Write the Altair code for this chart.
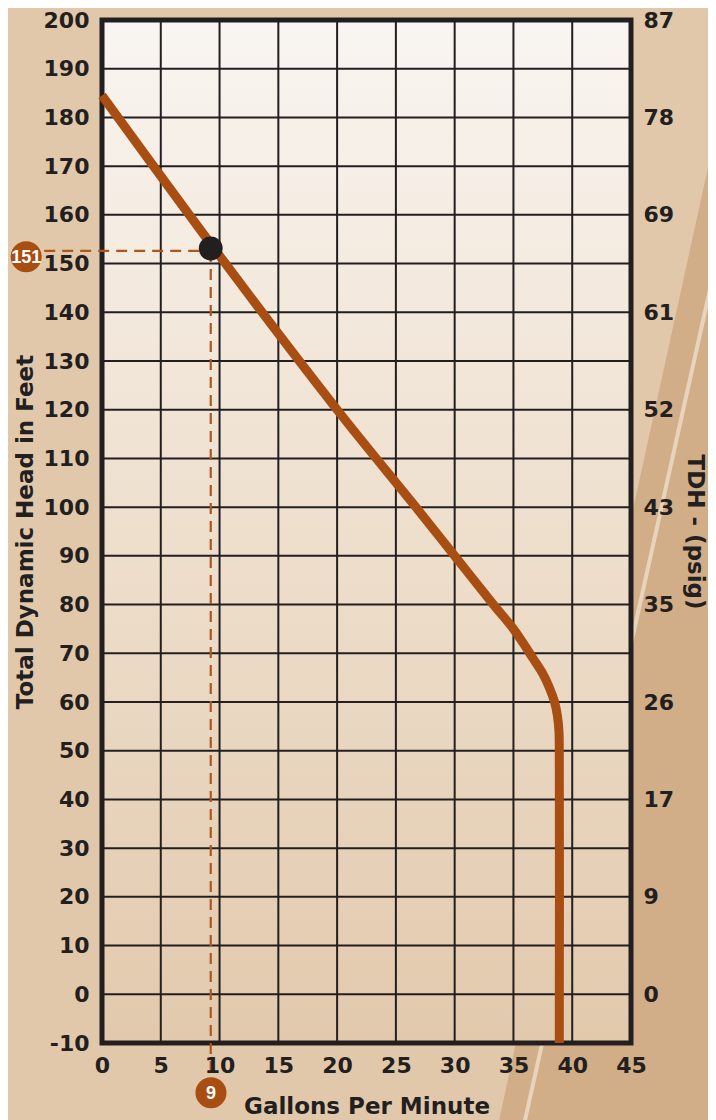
import altair as alt
import pandas as pd

# ---- data ----
gpm_ticks = [0, 5, 10, 15, 20, 25, 30, 35, 40, 45]
ft_ticks = [-10, 0, 10, 20, 30, 40, 50, 60, 70, 80, 90, 100, 110, 120, 130, 140,
            150, 160, 170, 180, 190, 200]
psig_ft = [0, 20, 40, 60, 80, 100, 120, 140, 160, 180, 200]
psig_labels = ["0", "9", "17", "26", "35", "43", "52", "61", "69", "78", "87"]

curve_gpm = [0, 10.5, 20.0, 26.7, 30.0, 33.3, 35.0, 35.85, 36.65, 37.45, 38.05,
             38.5, 38.75, 38.87, 38.9, 38.9]
curve_ft = [184.5, 150, 120, 100, 90, 80, 75, 72, 69, 66, 63,
            60, 57, 54, 50, -10]

marker_gpm = [9.25]
marker_ft = [153.1]
dash_ft = [152.6]

badge_text = ["151", "9"]
badge_gpm = [-6.45, 9.27]
badge_ft = [151.4, -20.2]

# decorative background band (data space, outside the plot domain)
band_gpm = [52.3, 33.4]
band_ft = [178, -30]
stripe_gpm = [52.3, 35.6]
stripe_ft = [151, -30]

INK = "#231F20"
RUST = "#A84E12"
FONT = "DejaVu Sans"

xs = alt.Scale(domain=[gpm_ticks[0], gpm_ticks[-1]], nice=False, zero=False)
ys = alt.Scale(domain=[ft_ticks[0], ft_ticks[-1]], nice=False, zero=False)

band = alt.Chart(pd.DataFrame({"gpm": band_gpm, "ft": band_ft})).mark_area(
    orient="horizontal", color="#D1AE88"
).encode(
    y=alt.Y("ft:Q", scale=ys, axis=None),
    x=alt.X("gpm:Q", scale=xs, axis=None),
    x2=alt.datum(70),
)

stripe = alt.Chart(pd.DataFrame({"gpm": stripe_gpm, "ft": stripe_ft})).mark_line(
    color="#E8D3BC", strokeWidth=4
).encode(
    x=alt.X("gpm:Q", scale=xs, axis=None),
    y=alt.Y("ft:Q", scale=ys, axis=None),
)

grad = alt.Gradient(
    gradient="linear",
    stops=[alt.GradientStop(color="#F9F5F1", offset=0),
           alt.GradientStop(color="#EEDFCD", offset=0.5),
           alt.GradientStop(color="#E2C9AC", offset=1)],
    x1=0, x2=0, y1=0, y2=1,
)

frame_df = pd.DataFrame({"x0": [gpm_ticks[0]], "x1": [gpm_ticks[-1]],
                         "y0": [ft_ticks[0]], "y1": [ft_ticks[-1]]})
frame = alt.Chart(frame_df).mark_rect(fill=grad, stroke=INK, strokeWidth=5).encode(
    x=alt.X("x0:Q", scale=xs, axis=alt.Axis(
        values=gpm_ticks, title="Gallons Per Minute", labelPadding=12,
        titlePadding=19, labelFlush=False, labelOverlap=False, zindex=2)),
    x2="x1:Q",
    y=alt.Y("y0:Q", scale=ys, axis=alt.Axis(
        orient="left", values=ft_ticks, title="Total Dynamic Head in Feet",
        labelPadding=13, titlePadding=6, labelExpr="'' + datum.value",
        labelOverlap=False, zindex=2)),
    y2="y1:Q",
)

vgrid = alt.Chart(pd.DataFrame({"gpm": gpm_ticks})).mark_rule(
    color=INK, strokeWidth=2
).encode(x=alt.X("gpm:Q", scale=xs, axis=None))

psig_arr = "[" + ",".join("'%s'" % s for s in psig_labels) + "]"
ft_arr = "[" + ",".join(str(v) for v in psig_ft) + "]"
hgrid = alt.Chart(pd.DataFrame({"ft": ft_ticks})).mark_rule(
    color=INK, strokeWidth=2
).encode(y=alt.Y("ft:Q", scale=ys, axis=alt.Axis(
    orient="right", values=psig_ft, title="TDH - (psig)", labelPadding=12,
    titlePadding=9, labelOverlap=False, zindex=2,
    labelExpr=psig_arr + "[indexof(" + ft_arr + ", datum.value)]")))

hdash = alt.Chart(pd.DataFrame({"x0": [badge_gpm[0]], "x1": marker_gpm,
                                "y": dash_ft})).mark_rule(
    color="#B0561C", strokeWidth=2.2, strokeDash=[11, 7]
).encode(
    x=alt.X("x0:Q", scale=xs, axis=None), x2="x1:Q",
    y=alt.Y("y:Q", scale=ys, axis=None),
)
vdash = alt.Chart(pd.DataFrame({"x": marker_gpm, "y0": dash_ft,
                                "y1": [badge_ft[1]]})).mark_rule(
    color="#B0561C", strokeWidth=2.2, strokeDash=[11, 7]
).encode(
    x=alt.X("x:Q", scale=xs, axis=None),
    y=alt.Y("y0:Q", scale=ys, axis=None), y2="y1:Q",
)

curve = alt.Chart(pd.DataFrame({"gpm": curve_gpm, "ft": curve_ft,
                                "i": list(range(len(curve_gpm)))})).mark_line(
    color=RUST, strokeWidth=9, interpolate="catmull-rom", strokeCap="butt"
).encode(
    x=alt.X("gpm:Q", scale=xs, axis=None),
    y=alt.Y("ft:Q", scale=ys, axis=None),
    order="i:Q",
)

marker = alt.Chart(pd.DataFrame({"gpm": marker_gpm, "ft": marker_ft})).mark_point(
    filled=True, size=570, color=INK, opacity=1
).encode(
    x=alt.X("gpm:Q", scale=xs, axis=None),
    y=alt.Y("ft:Q", scale=ys, axis=None),
)

badge_df = pd.DataFrame({"gpm": badge_gpm, "ft": badge_ft, "t": badge_text})
badges = alt.Chart(badge_df).mark_point(
    filled=True, size=962, color=RUST, opacity=1
).encode(
    x=alt.X("gpm:Q", scale=xs, axis=None),
    y=alt.Y("ft:Q", scale=ys, axis=None),
)
badge_lbl = alt.Chart(badge_df).mark_text(
    color="white", font="Liberation Sans", fontWeight="bold", fontSize=18,
    align="center", baseline="middle", dy=1
).encode(
    x=alt.X("gpm:Q", scale=xs, axis=None),
    y=alt.Y("ft:Q", scale=ys, axis=None),
    text="t:N",
)

chart = alt.layer(
    band, stripe, frame, vgrid, hgrid, hdash, vdash, curve, marker, badges, badge_lbl
).resolve_axis(x="independent", y="independent").properties(
    width=529, height=1023,
    padding={"left": 94, "top": 12, "right": 77, "bottom": 77},
    autosize=alt.AutoSizeParams(type="none"),
).configure(background="#E2C8AB").configure_view(stroke=None).configure_axis(
    labelFont=FONT, labelFontWeight="bold", labelFontSize=22, labelColor=INK,
    titleFont=FONT, titleFontWeight="bold", titleFontSize=23, titleColor=INK,
    ticks=False, tickSize=0, domain=False, grid=False,
)

chart.save("out.html", embed_options={"renderer": "svg", "actions": False})
